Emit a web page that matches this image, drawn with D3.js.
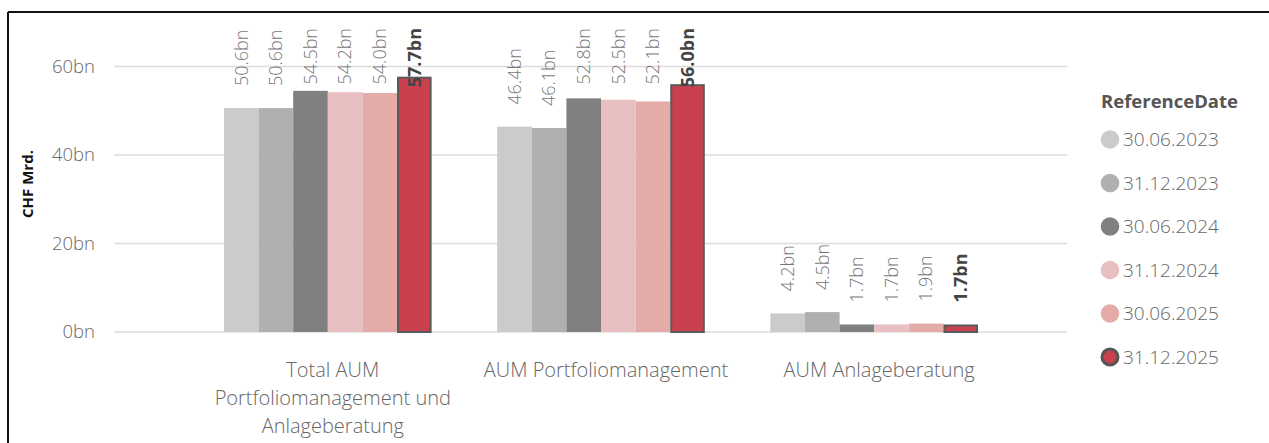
<!DOCTYPE html>
<html>
<head>
<meta charset="utf-8">
<script src="https://cdn.jsdelivr.net/npm/d3@7"></script>
<style>
  body { margin: 0; background: #fff; }
  svg { font-family: "Open Sans", "Noto Sans", sans-serif; }
</style>
</head>
<body>
<div class="main"></div>
<script>
// chart data
const categories = [
    ["Total AUM", "Portfoliomanagement und", "Anlageberatung"],
    ["AUM Portfoliomanagement"],
    ["AUM Anlageberatung"]
];
const dates = ["30.06.2023", "31.12.2023", "30.06.2024", "31.12.2024", "30.06.2025", "31.12.2025"];
const colors = ["#cbcbcb", "#b0b0b0", "#808080", "#e9c0c2", "#e3aca8", "#c9414f"];
const totalAum = [50.6, 50.6, 54.5, 54.2, 54.0, 57.7];
const aumPm = [46.4, 46.1, 52.8, 52.5, 52.1, 56.0];
const aumAb = [4.2, 4.5, 1.7, 1.7, 1.9, 1.7];
const yTicks = [0, 20, 40, 60];

const seriesValues = [totalAum, aumPm, aumAb];

let width = 1269;
let height = 443;

let svg = d3.select(".main").append("svg")
    .attr("width", width)
    .attr("height", height);

// frame (top and left edge only)
svg.append("line").attr("x1", 8).attr("x2", width).attr("y1", 12).attr("y2", 12)
    .attr("stroke", "#111").attr("stroke-width", 2);
svg.append("line").attr("x1", 8).attr("x2", 8).attr("y1", 12).attr("y2", height)
    .attr("stroke", "#111").attr("stroke-width", 2);

let x0 = d3.scaleBand().domain(d3.range(categories.length)).range([224, 978]).paddingInner(0.24);
let x1 = d3.scaleBand().domain(dates).range([0, x0.bandwidth()]);
let y = d3.scaleLinear().domain([0, 60]).range([332, 66.5]);

// gridlines + tick labels
let grid = svg.append("g");
grid.selectAll("line").data(yTicks).enter().append("line")
    .attr("x1", 114).attr("x2", 1067)
    .attr("y1", d => y(d)).attr("y2", d => y(d))
    .attr("stroke", "#dcdcdc").attr("stroke-width", 1.5);
grid.selectAll("text").data(yTicks).enter().append("text")
    .attr("x", 95).attr("y", d => y(d)).attr("dy", "0.35em")
    .attr("text-anchor", "end")
    .attr("fill", "#666").attr("font-size", 18.5).attr("font-weight", 300)
    .text(d => d + "bn");

// y title
svg.append("text")
    .attr("transform", "translate(33,184) rotate(-90)")
    .attr("text-anchor", "middle")
    .attr("fill", "#111").attr("font-size", 15).attr("font-weight", 700)
    .text("CHF Mrd.");

// bars
let groups = svg.selectAll(".grp").data(seriesValues).enter().append("g")
    .attr("class", "grp")
    .attr("transform", (d, i) => `translate(${x0(i)},0)`);

groups.selectAll("rect").data(d => d.map((v, j) => ({ v: v, j: j }))).enter().append("rect")
    .attr("x", d => x1(dates[d.j]) + (d.j === 5 ? 1 : 0))
    .attr("y", d => y(d.v) + (d.j === 5 ? 1 : 0))
    .attr("width", d => x1.bandwidth() - (d.j === 5 ? 2 : 0))
    .attr("height", d => y(0) - y(d.v) - (d.j === 5 ? 1 : 0))
    .attr("fill", d => colors[d.j])
    .attr("stroke", d => d.j === 5 ? "#5a5a5a" : "none")
    .attr("stroke-width", 2);

// data labels, rotated, pushed down if they hit the top
groups.selectAll(".lbl").data(d => d.map((v, j) => ({ v: v, j: j }))).enter().append("text")
    .attr("class", "lbl")
    .attr("font-size", 18)
    .attr("font-weight", d => d.j === 5 ? 700 : 300)
    .attr("fill", d => d.j === 5 ? "#444" : "#777")
    .attr("text-anchor", "start")
    .attr("dy", "0.35em")
    .text(d => d.v.toFixed(1) + "bn")
    .each(function (d) {
        let len = this.getComputedTextLength();
        let cx = x1(dates[d.j]) + x1.bandwidth() / 2;
        let yy = Math.max(y(d.v) - 22, 28 + len);
        d3.select(this).attr("transform", `translate(${cx},${yy}) rotate(-90)`);
    });

// category labels
groups.each(function (d, i) {
    let t = d3.select(this).append("text")
        .attr("text-anchor", "middle")
        .attr("fill", "#666").attr("font-size", 20).attr("font-weight", 300);
    categories[i].forEach((line, k) => {
        t.append("tspan")
            .attr("x", x0.bandwidth() / 2 + 5)
            .attr("y", 377 + k * 28)
            .text(line);
    });
});

// legend
let legend = svg.append("g").attr("transform", "translate(1101,0)");
legend.append("text")
    .attr("x", 0).attr("y", 108)
    .attr("fill", "#555").attr("font-size", 18.5).attr("font-weight", 700)
    .text("ReferenceDate");

let items = legend.selectAll(".item").data(dates).enter().append("g")
    .attr("class", "item")
    .attr("transform", (d, i) => `translate(0,${139.5 + i * 43.5})`);
items.append("circle")
    .attr("cx", 9).attr("cy", 0)
    .attr("r", (d, i) => i === 5 ? 8 : 9.3)
    .attr("fill", (d, i) => colors[i])
    .attr("stroke", (d, i) => i === 5 ? "#555" : "none")
    .attr("stroke-width", 3);
items.append("text")
    .attr("x", 22).attr("y", 0).attr("dy", "0.35em")
    .attr("fill", "#666").attr("font-size", 19).attr("font-weight", 300)
    .text(d => d);
</script>
</body>
</html>
